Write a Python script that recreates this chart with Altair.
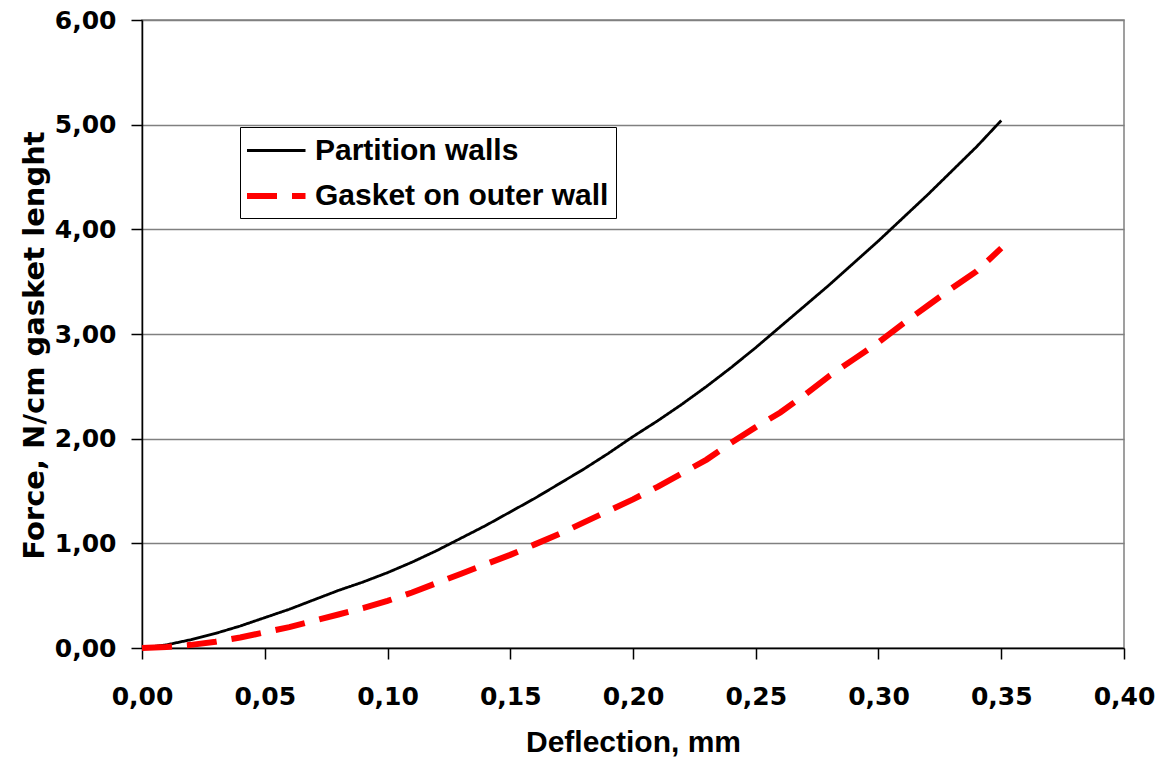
import altair as alt
import pandas as pd

deflection = [0.00, 0.01, 0.02, 0.03, 0.04, 0.05, 0.06, 0.07, 0.08, 0.09,
              0.10, 0.11, 0.12, 0.13, 0.14, 0.15, 0.16, 0.17, 0.18, 0.19,
              0.20, 0.21, 0.22, 0.23, 0.24, 0.25, 0.26, 0.27, 0.28, 0.29,
              0.30, 0.31, 0.32, 0.33, 0.34, 0.35]
partition_walls = [0.00, 0.03, 0.08, 0.14, 0.21, 0.29, 0.37, 0.46, 0.55, 0.63,
                   0.72, 0.82, 0.93, 1.05, 1.17, 1.30, 1.43, 1.57, 1.71, 1.86,
                   2.02, 2.17, 2.33, 2.50, 2.68, 2.87, 3.07, 3.27, 3.47, 3.68,
                   3.89, 4.11, 4.33, 4.56, 4.79, 5.04]
gasket_outer = [0.00, 0.01, 0.03, 0.06, 0.10, 0.15, 0.20, 0.26, 0.32, 0.38,
                0.45, 0.53, 0.62, 0.71, 0.80, 0.89, 0.99, 1.09, 1.20, 1.31,
                1.42, 1.54, 1.67, 1.80, 1.96, 2.11, 2.25, 2.42, 2.60, 2.76,
                2.92, 3.10, 3.27, 3.44, 3.60, 3.82]
series_names = ["Partition walls", "Gasket on outer wall"]

rows = []
for x, a, b in zip(deflection, partition_walls, gasket_outer):
    rows.append({"x": x, "y": a, "s": series_names[0]})
    rows.append({"x": x, "y": b, "s": series_names[1]})
df = pd.DataFrame(rows)

ARIAL = "Liberation Sans"
WIDE = "DejaVu Sans"
fmt = "replace(format(datum.value, '.2f'), '.', ',')"

leg = alt.Legend(title=None, orient="none", legendX=98, legendY=107,
                 symbolType="M-1.2,0L2.7,0", symbolSize=900,
                 labelFont=ARIAL, labelFontSize=30, labelFontWeight="bold",
                 labelColor="black", strokeColor="black", padding=7,
                 rowPadding=12, labelOffset=32, labelLimit=500)

chart = alt.Chart(df).mark_line(strokeCap="butt").encode(
    x=alt.X("x:Q", title="Deflection, mm",
            scale=alt.Scale(domain=[0, 0.40], nice=False),
            axis=alt.Axis(values=[0, 0.05, 0.10, 0.15, 0.20, 0.25, 0.30, 0.35, 0.40],
                          labelExpr=fmt, grid=False, tickSize=11, tickColor="black",
                          domainColor="black", domainWidth=1.5, tickWidth=1.5,
                          labelFlush=False,
                          labelFont=WIDE, labelFontSize=25, labelFontWeight="bold",
                          labelColor="black", labelPadding=25,
                          titleFont=ARIAL, titleFontSize=30, titleFontWeight="bold",
                          titleColor="black", titlePadding=18)),
    y=alt.Y("y:Q", title="Force, N/cm gasket lenght",
            scale=alt.Scale(domain=[0, 6], nice=False),
            axis=alt.Axis(values=[0, 1, 2, 3, 4, 5, 6], labelExpr=fmt,
                          grid=True, gridColor="#808080", gridWidth=1.5,
                          tickSize=11, tickColor="black", tickWidth=1.5,
                          domainColor="black", domainWidth=1.5,
                          labelFlush=False,
                          labelFont=WIDE, labelFontSize=25, labelFontWeight="bold",
                          labelColor="black", labelPadding=15,
                          titleFont=WIDE, titleFontSize=29, titleFontWeight="bold",
                          titleColor="black", titlePadding=5, titleY=325)),
    color=alt.Color("s:N", scale=alt.Scale(domain=series_names, range=["black", "#ff0000"]),
                    legend=leg),
    strokeDash=alt.StrokeDash("s:N", scale=alt.Scale(domain=series_names,
                                                     range=[[1, 0], [30, 15]]), legend=leg),
    strokeWidth=alt.StrokeWidth("s:N", scale=alt.Scale(domain=series_names, range=[2.8, 6]),
                                legend=leg),
).properties(
    width=982, height=628,
    autosize="none",
    padding={"left": 142, "top": 20, "right": 35, "bottom": 114},
).configure_view(stroke="#808080", strokeWidth=1.5)

chart.save("out.html", embed_options={"renderer": "svg", "actions": False})
